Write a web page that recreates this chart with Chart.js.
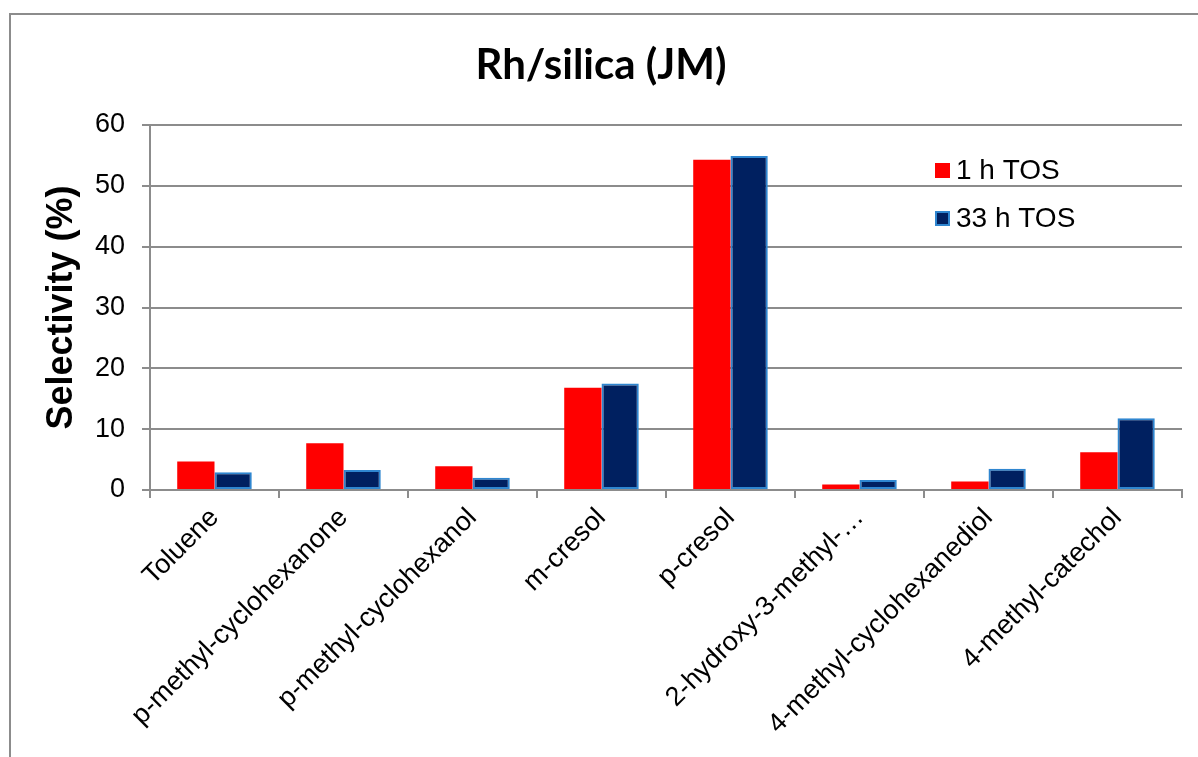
<!DOCTYPE html>
<html>
<head>
<meta charset="utf-8">
<script src="https://cdn.jsdelivr.net/npm/chart.js@4"></script>
<style>
  html, body { margin: 0; padding: 0; background: #fff; }
  #wrap { width: 1198px; height: 757px; }
</style>
</head>
<body>
<div id="wrap"><canvas id="myChart" width="1198" height="757"></canvas></div>
<script>
// data
var categories = ['Toluene', 'p-methyl-cyclohexanone', 'p-methyl-cyclohexanol', 'm-cresol',
                  'p-cresol', '2-hydroxy-3-methyl-\u2026', '4-methyl-cyclohexanediol', '4-methyl-catechol'];
var tos1h = [4.7, 7.7, 3.9, 16.8, 54.3, 0.9, 1.4, 6.2];
var tos33h = [2.9, 3.3, 2.0, 17.5, 54.9, 1.65, 3.5, 11.8];
var yTicks = [0, 10, 20, 30, 40, 50, 60];

var axisGray = '#8c8c8c';

// outer frame, cut off at right and bottom like the original
var framePlugin = {
  id: 'frame',
  beforeDraw: function (chart) {
    var ctx = chart.ctx;
    ctx.save();
    ctx.fillStyle = '#fff';
    ctx.fillRect(0, 0, chart.width, chart.height);
    ctx.strokeStyle = axisGray;
    ctx.lineWidth = 2;
    ctx.strokeRect(10, 14, chart.width + 20, chart.height + 20);
    ctx.restore();
  }
};

// legend sits inside the plot area on the right
var insideLegend = {
  id: 'insideLegend',
  afterDraw: function (chart) {
    var ctx = chart.ctx;
    var x = 935, y0 = 170, gap = 48;
    ctx.save();
    ctx.font = '28px "Liberation Sans", Arial, sans-serif';
    ctx.textBaseline = 'middle';
    chart.data.datasets.forEach(function (ds, i) {
      var y = y0 + i * gap;
      ctx.fillStyle = ds.backgroundColor;
      ctx.fillRect(x, y - 7, 15, 15);
      if (ds.borderWidth) {
        ctx.strokeStyle = ds.borderColor;
        ctx.lineWidth = 2;
        ctx.strokeRect(x + 1, y - 6, 13, 13);
      }
      ctx.fillStyle = '#000';
      ctx.fillText(ds.label, x + 21, y + 1);
    });
    ctx.restore();
  }
};

Chart.defaults.font.family = '"Liberation Sans", Arial, sans-serif';
Chart.defaults.color = '#000';

var ctx = document.getElementById('myChart').getContext('2d');
var chart = new Chart(ctx, {
  type: 'bar',
  data: {
    labels: categories,
    datasets: [{
      label: '1 h TOS',
      data: tos1h,
      backgroundColor: '#ff0000',
      borderWidth: 0
    }, {
      label: '33 h TOS',
      data: tos33h,
      backgroundColor: '#002060',
      borderColor: '#2f86d0',
      borderWidth: 2,
      borderSkipped: false
    }]
  },
  options: {
    responsive: false,
    animation: false,
    devicePixelRatio: 1,
    categoryPercentage: 0.578,
    barPercentage: 1,
    layout: { padding: { left: 20, right: 16, top: 0, bottom: 0 } },
    plugins: {
      legend: { display: false },
      tooltip: { enabled: false },
      title: {
        display: true,
        text: 'Rh/silica (JM)',
        font: { family: 'Lato, "Open Sans", sans-serif', size: 42, weight: 'bold', lineHeight: 1.2 },
        color: '#000',
        padding: { top: 40, bottom: 34.6 }
      }
    },
    scales: {
      x: {
        grid: {
          drawOnChartArea: false,
          drawTicks: true,
          tickLength: 8,
          color: axisGray,
          lineWidth: 2
        },
        border: { color: axisGray, width: 2 },
        ticks: {
          autoSkip: false,
          minRotation: 45,
          maxRotation: 45,
          padding: 4,
          font: { size: 27 }
        },
        afterFit: function (scale) { scale.height = 267; }
      },
      y: {
        min: 0,
        max: 60,
        afterBuildTicks: function (scale) {
          scale.ticks = yTicks.map(function (v) { return { value: v }; });
        },
        grid: {
          color: axisGray,
          lineWidth: 2,
          drawTicks: true,
          tickLength: 8
        },
        border: { color: axisGray, width: 2 },
        ticks: {
          padding: 17,
          font: { size: 27 }
        },
        title: {
          display: true,
          text: 'Selectivity (%)',
          font: { size: 36, weight: 'bold', lineHeight: 1.2 },
          padding: { top: 20, bottom: 0 }
        },
        afterFit: function (scale) { scale.width = 130; }
      }
    }
  },
  plugins: [framePlugin, insideLegend]
});
</script>
</body>
</html>
